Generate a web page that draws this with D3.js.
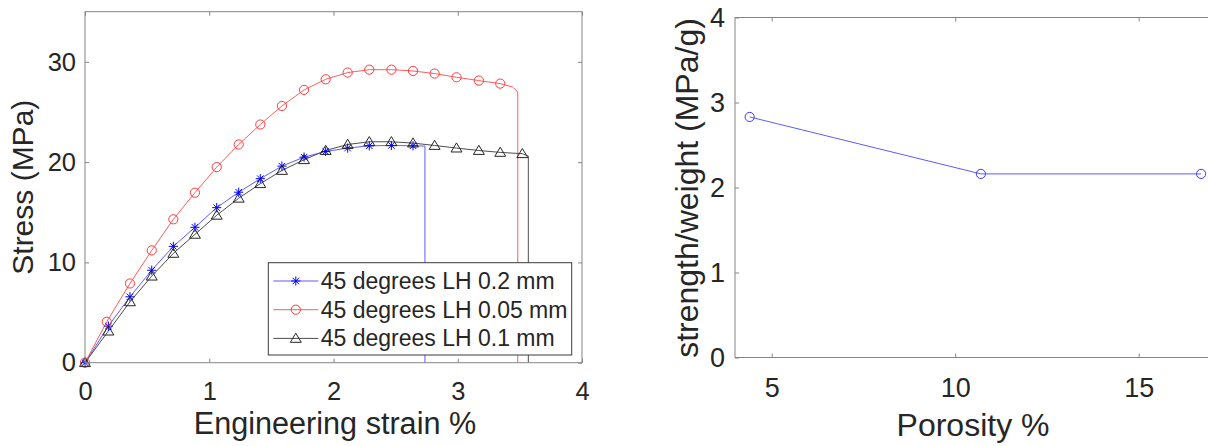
<!DOCTYPE html>
<html>
<head>
<meta charset="utf-8">
<script src="https://cdn.jsdelivr.net/npm/d3@7"></script>
<style>
  body { margin: 0; background: #fff; }
  svg { display: block; font-family: "Liberation Sans", Arial, sans-serif; }
</style>
</head>
<body>
<div id="chart"></div>
<script>
// stress-strain curves (marker points) and fracture tails
const strain02 = [0, 0.188, 0.362, 0.537, 0.711, 0.885, 1.06, 1.237, 1.411, 1.585, 1.763, 1.937, 2.114, 2.288, 2.466, 2.64];
const stress02 = [0, 3.65, 6.57, 9.22, 11.6, 13.5, 15.46, 17.0, 18.35, 19.6, 20.5, 21.06, 21.4, 21.63, 21.66, 21.63];
const tailStrain02 = [2.736, 2.736];
const tailStress02 = [21.6, 0];

const strain005 = [0, 0.175, 0.362, 0.537, 0.711, 0.885, 1.06, 1.237, 1.411, 1.585, 1.763, 1.937, 2.114, 2.288, 2.466, 2.64, 2.814, 2.99, 3.17, 3.342];
const stress005 = [0, 4.08, 7.9, 11.2, 14.3, 16.95, 19.5, 21.76, 23.75, 25.6, 27.2, 28.26, 28.93, 29.22, 29.22, 29.09, 28.83, 28.46, 28.13, 27.83];
const tailStrain005 = [3.44, 3.483, 3.483];
const tailStress005 = [27.5, 27.0, 0];

const strain01 = [0, 0.188, 0.362, 0.537, 0.711, 0.885, 1.06, 1.237, 1.411, 1.585, 1.763, 1.937, 2.114, 2.288, 2.466, 2.64, 2.814, 2.99, 3.17, 3.342, 3.52];
const stress01 = [0, 3.15, 6.07, 8.63, 10.9, 12.8, 14.7, 16.4, 17.85, 19.17, 20.24, 21.16, 21.76, 22.03, 22.03, 21.9, 21.66, 21.4, 21.16, 20.97, 20.84];
const tailStrain01 = [3.568, 3.568];
const tailStress01 = [20.6, 0];

const seriesNames = ["45 degrees LH 0.2 mm", "45 degrees LH 0.05 mm", "45 degrees LH 0.1 mm"];

// strength to weight vs porosity
const porosity = [4.4, 10.7, 16.7];
const strengthWeight = [2.83, 2.16, 2.16];

const leftXTicks = [0, 1, 2, 3, 4];
const leftYTicks = [0, 10, 20, 30];
const rightXTicks = [5, 10, 15];
const rightYTicks = [0, 1, 2, 3, 4];

const W = 1208, H = 446;
const TEXT = "#262626", AXIS = "#858585";

const svg = d3.select("#chart").append("svg").attr("width", W).attr("height", H);

function starPath(s) {
    let d = s * 0.7;
    return `M${-s},0L${s},0M0,${-s}L0,${s}M${-d},${-d}L${d},${d}M${-d},${d}L${d},${-d}`;
}
function triPath(s) {
    return `M0,${-s}L${s * 1.05},${s * 0.75}L${-s * 1.05},${s * 0.75}Z`;
}

function drawMarker(g, kind, color, x, y) {
    if (kind === "circle") {
        g.append("circle").attr("cx", x).attr("cy", y).attr("r", 4.6)
            .attr("fill", "none").attr("stroke", color).attr("stroke-width", 1);
    } else if (kind === "star") {
        g.append("path").attr("transform", `translate(${x},${y})`).attr("d", starPath(4.6))
            .attr("fill", "none").attr("stroke", color).attr("stroke-width", 1);
    } else {
        g.append("path").attr("transform", `translate(${x},${y})`).attr("d", triPath(5.2))
            .attr("fill", "none").attr("stroke", color).attr("stroke-width", 1);
    }
}

function drawFrame(g, x, y, xt, yt, fs, padX, padY) {
    let [x0, x1] = x.range();
    let [y0, y1] = y.range();
    let ax = g.append("g").attr("transform", `translate(0,${y0})`)
        .call(d3.axisBottom(x).tickValues(xt).tickSize(-4).tickPadding(padX).tickFormat(d3.format("d")));
    let ay = g.append("g").attr("transform", `translate(${x0},0)`)
        .call(d3.axisLeft(y).tickValues(yt).tickSize(-4).tickPadding(padY).tickFormat(d3.format("d")));
    let at = g.append("g").attr("transform", `translate(0,${y1})`)
        .call(d3.axisTop(x).tickValues(xt).tickSize(-4).tickFormat(""));
    let ar = g.append("g").attr("transform", `translate(${x1},0)`)
        .call(d3.axisRight(y).tickValues(yt).tickSize(-4).tickFormat(""));
    [ax, ay, at, ar].forEach(a => {
        a.select(".domain").remove();
        a.selectAll("line").attr("stroke", AXIS);
        a.selectAll("text").attr("fill", TEXT).style("font-size", fs + "px")
            .style("font-family", "'Liberation Sans', Arial, sans-serif");
    });
    g.append("rect").attr("x", x0).attr("y", y1).attr("width", x1 - x0).attr("height", y0 - y1)
        .attr("fill", "none").attr("stroke", AXIS).attr("stroke-width", 1);
}

// ---------- left panel ----------
const xL = d3.scaleLinear().domain([0, 4]).range([85, 582]);
const yL = d3.scaleLinear().domain([0, 35]).range([362.7, 11.7]);
const gL = svg.append("g");

const lineL = d3.line().x(d => xL(d[0])).y(d => yL(d[1]));
const curves = [
    {xs: strain02, ys: stress02, tx: tailStrain02, ty: tailStress02, color: "#0000ff", line: "#5c5cff", kind: "star"},
    {xs: strain005, ys: stress005, tx: tailStrain005, ty: tailStress005, color: "#ff3b3b", line: "#ff5c5c", kind: "circle"},
    {xs: strain01, ys: stress01, tx: tailStrain01, ty: tailStress01, color: "#262626", line: "#4d4d4d", kind: "tri"}
];

curves.forEach(c => {
    let pts = c.xs.map((v, i) => [v, c.ys[i]]).concat(c.tx.map((v, i) => [v, c.ty[i]]));
    gL.append("path").datum(pts).attr("d", lineL)
        .attr("fill", "none").attr("stroke", c.line).attr("stroke-width", 1);
});
curves.forEach(c => {
    c.xs.forEach((v, i) => drawMarker(gL, c.kind, c.color, xL(v), yL(c.ys[i])));
});

drawFrame(gL, xL, yL, leftXTicks, leftYTicks, 25.5, 19.5, 9);

// legend
const leg = gL.append("g");
leg.append("rect").attr("x", 268.3).attr("y", 262.7).attr("width", 303.4).attr("height", 92.3)
    .attr("fill", "#fff").attr("stroke", "#3a3a3a").attr("stroke-width", 1);
seriesNames.forEach((name, i) => {
    let cy = 281 + i * 28.7;
    let c = curves[i];
    leg.append("line").attr("x1", 273.3).attr("x2", 318.3).attr("y1", cy).attr("y2", cy)
        .attr("stroke", c.line).attr("stroke-width", 1);
    drawMarker(leg, c.kind, c.color, 295.8, cy);
    leg.append("text").attr("x", 320.7).attr("y", cy).attr("dy", "0.35em")
        .attr("fill", TEXT).style("font-size", "23px").text(name);
});

gL.append("text").attr("x", 335).attr("y", 434).attr("text-anchor", "middle")
    .attr("fill", TEXT).style("font-size", "30.6px").text("Engineering strain %");
gL.append("text").attr("transform", `translate(33,187.2) rotate(-90)`).attr("text-anchor", "middle")
    .attr("fill", TEXT).style("font-size", "30px").text("Stress (MPa)");

// ---------- right panel ----------
const xR = d3.scaleLinear().domain([4, 17]).range([735, 1212.1]);
const yR = d3.scaleLinear().domain([0, 4]).range([357.5, 17.5]);
const gR = svg.append("g");

const lineR = d3.line().x(d => xR(d[0])).y(d => yR(d[1]));
const ptsR = porosity.map((v, i) => [v, strengthWeight[i]]);
gR.append("path").datum(ptsR).attr("d", lineR)
    .attr("fill", "none").attr("stroke", "#5c5cff").attr("stroke-width", 1);
ptsR.forEach(p => {
    gR.append("circle").attr("cx", xR(p[0])).attr("cy", yR(p[1])).attr("r", 4.6)
        .attr("fill", "none").attr("stroke", "#3b3bff").attr("stroke-width", 1);
});

drawFrame(gR, xR, yR, rightXTicks, rightYTicks, 27, 20, 10);

gR.append("text").attr("x", 973).attr("y", 436).attr("text-anchor", "middle")
    .attr("fill", TEXT).style("font-size", "32px").text("Porosity %");
gR.append("text").attr("transform", `translate(698,188) rotate(-90)`).attr("text-anchor", "middle")
    .attr("fill", TEXT).style("font-size", "32px").text("strength/weight (MPa/g)");
</script>
</body>
</html>
